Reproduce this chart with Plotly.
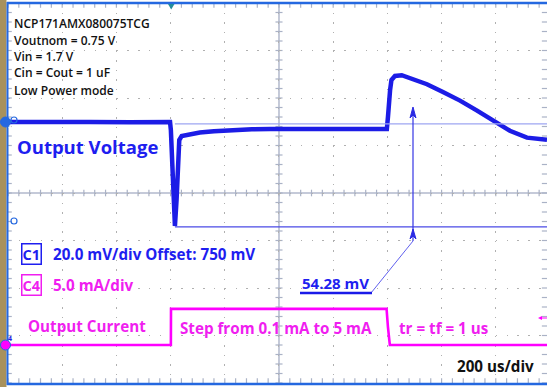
import plotly.graph_objects as go

# ---------------- data ----------------
# Channel 1: output voltage (mV) vs time (us)
time_v_us = [0, 150, 300, 450, 598, 601, 608, 613, 616, 622, 627, 632, 641,
             672, 708, 760, 819, 900, 967, 1100, 1188, 1300, 1391,
             1398, 1402, 1406, 1410, 1415, 1428, 1453, 1494, 1546, 1605,
             1668, 1731, 1790, 1852, 1915, 1989]
voltage_mV = [750.0, 749.8, 750.0, 749.9, 750.0, 746.6, 728.5, 712.9, 706.2, 717.2, 734.0, 742.4, 744.1,
              744.9, 745.6, 746.1, 746.6, 746.9, 747.1, 747.0, 746.9, 746.7, 746.6,
              747.0, 752.0, 759.3, 763.5, 767.7, 769.4, 769.7, 768.2, 765.9, 762.6,
              759.0, 754.8, 750.5, 746.3, 743.4, 742.5]

# Channel 4: output current (mA) vs time (us)
time_i_us = [0, 601, 601.5, 1397, 1402, 1409, 1989]
current_mA = [0.1, 0.1, 3.9, 3.9, 2.0, 0.1, 0.1]

# Scope settings
TIME_PER_DIV = 200       # us/div
V_SCALE, V_OFFSET, V_POS = 20.0, 750.0, 1.495   # mV/div, mV, div
I_SCALE, I_POS = 5.0, -3.22                     # mA/div, div
T_END = 1989

cursor_mV = [749.2, 705.8]
cursor_start_us = 616

info_lines = ["NCP171AMX080075TCG", "Voutnom = 0.75 V", "Vin = 1.7 V",
              "Cin = Cout = 1 uF", "Low Power mode"]

# ---------------- colours / helpers ----------------
BLUE = "#1c1ce6"
TXT_BLUE = "#1e1ef0"
MAG = "#ff00ff"
TXT_MAG = "#f01ef0"
GRID = "#b0b0b0"
FRAME = "#2468e0"
FONT = "Open Sans"

W, H = 547, 387
L, T, B = 8, 3, 383

def px(x):
    return (x - L) / (W - L)

def py(y):
    return (B - y) / (B - T)

v_range = [V_OFFSET + (-4 - V_POS) * V_SCALE, V_OFFSET + (4 - V_POS) * V_SCALE]
i_range = [(-4 - I_POS) * I_SCALE, (4 - I_POS) * I_SCALE]

fig = go.Figure()
fig.add_trace(go.Scatter(x=[], y=[], showlegend=False, hoverinfo="skip"))
fig.add_trace(go.Scatter(x=time_i_us, y=current_mA, yaxis="y3", mode="lines",
                         line=dict(color=MAG, width=2.6), showlegend=False))
fig.add_trace(go.Scatter(x=time_v_us, y=voltage_mV, yaxis="y2", mode="lines",
                         line=dict(color=BLUE, width=4.5),
                         showlegend=False))

shapes = []
# center cross lines
shapes.append(dict(type="line", xref="x", yref="y", x0=0, x1=T_END, y0=0, y1=0,
                   line=dict(color="#b2b9cc", width=1.5), layer="below"))
shapes.append(dict(type="line", xref="x", yref="y", x0=5 * TIME_PER_DIV, x1=5 * TIME_PER_DIV,
                   y0=-4, y1=4, line=dict(color="#b2b9cc", width=1.5), layer="below"))
# minor ticks on center lines and frame edges
t = 0
while t <= 2000:
    shapes.append(dict(type="line", xref="x", yref="y", x0=t, x1=t, y0=-0.07, y1=0.07,
                       line=dict(color="#aab2c6", width=1.2), layer="below"))
    shapes.append(dict(type="line", xref="x", yref="y", x0=t, x1=t, y0=4, y1=3.9,
                       line=dict(color="#aab2c6", width=1.2), layer="below"))
    shapes.append(dict(type="line", xref="x", yref="y", x0=t, x1=t, y0=-4, y1=-3.9,
                       line=dict(color="#aab2c6", width=1.2), layer="below"))
    t += TIME_PER_DIV / 5
d = -4.0
while d <= 4.001:
    shapes.append(dict(type="line", xref="x", yref="y", x0=1000 - 13, x1=1000 + 13, y0=d, y1=d,
                       line=dict(color="#aab2c6", width=1.2), layer="below"))
    shapes.append(dict(type="line", xref="x", yref="y", x0=0, x1=14, y0=d, y1=d,
                       line=dict(color="#aab2c6", width=1.2), layer="below"))
    shapes.append(dict(type="line", xref="x", yref="y", x0=1970, x1=2000, y0=d, y1=d,
                       line=dict(color="#aab2c6", width=1.2), layer="below"))
    d += 0.2

# cursors
shapes.append(dict(type="line", xref="x", yref="y2", x0=cursor_start_us, x1=T_END,
                   y0=cursor_mV[0], y1=cursor_mV[0], line=dict(color="#9ea6f2", width=1.2)))
shapes.append(dict(type="line", xref="x", yref="y2", x0=cursor_start_us, x1=T_END,
                   y0=cursor_mV[1], y1=cursor_mV[1], line=dict(color="#4a4ae6", width=1.2)))

# frame
shapes.append(dict(type="rect", xref="paper", yref="paper", x0=px(0), x1=px(6.5), y0=py(387), y1=py(0),
                   line=dict(width=0), fillcolor="#a8915c"))
shapes.append(dict(type="line", xref="paper", yref="paper", x0=px(7.5), x1=px(7.5), y0=py(385), y1=py(2),
                   line=dict(color=FRAME, width=2)))
shapes.append(dict(type="line", xref="paper", yref="paper", x0=px(7), x1=px(547), y0=py(3), y1=py(3),
                   line=dict(color=FRAME, width=2.5)))
shapes.append(dict(type="line", xref="paper", yref="paper", x0=px(7), x1=px(547), y0=py(384), y1=py(384),
                   line=dict(color=FRAME, width=2.5)))

# trigger marker
shapes.append(dict(type="path", xref="paper", yref="paper",
                   path="M %f %f L %f %f L %f %f Z" % (px(168), py(4), px(174.5), py(4), px(171.2), py(9.5)),
                   line=dict(width=0), fillcolor="#238c9c"))

# channel markers at left
shapes.append(dict(type="circle", xref="paper", yref="paper", x0=px(0.5), x1=px(10.5), y0=py(127), y1=py(117),
                   line=dict(color=FRAME, width=1), fillcolor=FRAME))
shapes.append(dict(type="circle", xref="paper", yref="paper", x0=px(11), x1=px(17), y0=py(123), y1=py(117),
                   line=dict(color=FRAME, width=1.2), fillcolor="rgba(0,0,0,0)"))
shapes.append(dict(type="circle", xref="paper", yref="paper", x0=px(11), x1=px(17), y0=py(224), y1=py(218),
                   line=dict(color=FRAME, width=1.2), fillcolor="rgba(0,0,0,0)"))
shapes.append(dict(type="circle", xref="paper", yref="paper", x0=px(0.5), x1=px(10.5), y0=py(350), y1=py(340),
                   line=dict(color=FRAME, width=1), fillcolor=MAG))
# magenta level arrow at right
shapes.append(dict(type="path", xref="paper", yref="paper",
                   path="M %f %f L %f %f L %f %f Z" % (px(538), py(318), px(542), py(316), px(542), py(320)),
                   line=dict(width=0), fillcolor=MAG))
shapes.append(dict(type="line", xref="paper", yref="paper", x0=px(541), x1=px(547), y0=py(318), y1=py(318),
                   line=dict(color=MAG, width=1)))

# measurement callout lines
shapes.append(dict(type="line", xref="paper", yref="paper", x0=px(413), x1=px(413), y0=py(112), y1=py(241),
                   line=dict(color="#3434e4", width=1.2)))
shapes.append(dict(type="line", xref="paper", yref="paper", x0=px(413), x1=px(371), y0=py(241), y1=py(293),
                   line=dict(color="#6060ee", width=1)))
shapes.append(dict(type="line", xref="paper", yref="paper", x0=px(300), x1=px(372), y0=py(293), y1=py(293),
                   line=dict(color="#1a1ae8", width=2.5)))
for (ty, by) in [(107, 120), (229, 241)]:
    shapes.append(dict(type="path", xref="paper", yref="paper",
                       path="M %f %f L %f %f L %f %f L %f %f Z" % (px(413), py(ty), px(416), py(by - 2),
                                                                    px(413), py(by - 5), px(410), py(by - 2)),
                       line=dict(color="#2a2ae4", width=1), fillcolor="#2a2ae4"))

annotations = []
def txt(s, x, y, color, size, weight="bold", anchor="left"):
    annotations.append(dict(text=s, x=px(x), y=py(y), xref="paper", yref="paper",
                            xanchor=anchor, yanchor="middle", showarrow=False,
                            font=dict(family=FONT, size=size, color=color, weight=weight)))

for s, yy in zip(info_lines, [23, 40.5, 56.5, 72.5, 90]):
    txt(s, 12, yy, "#111111", 12, weight=600)
txt("Output Voltage", 15, 147, TXT_BLUE, 18.5)
txt("20.0 mV/div Offset: 750 mV", 51, 254, TXT_BLUE, 15.2)
txt("5.0 mA/div", 51, 285, TXT_MAG, 15.2)
txt("Output Current", 26, 325.5, TXT_MAG, 15.2)
txt("Step from 0.1 mA to 5 mA", 178, 327.5, TXT_MAG, 15.2)
txt("tr = tf = 1 us", 397, 327.5, TXT_MAG, 15.2)
txt("200 us/div", 455, 366, "#111111", 15.2)
txt("54.28 mV", 300, 283, TXT_BLUE, 15)

for s, yy, col in [("C1", 253.5, TXT_BLUE), ("C4", 284.5, TXT_MAG)]:
    annotations.append(dict(text=s, x=px(31), y=py(yy), xref="paper", yref="paper",
                            xanchor="center", yanchor="middle", showarrow=False,
                            bordercolor=col, borderwidth=1.5, borderpad=0,
                            font=dict(family=FONT, size=14.5, color=col, weight="bold")))
annotations.append(dict(text="1", x=px(5.5), y=py(122), xref="paper", yref="paper", showarrow=False,
                        font=dict(family=FONT, size=7, color="white", weight="bold")))
annotations.append(dict(text="4", x=px(5.5), y=py(345), xref="paper", yref="paper", showarrow=False,
                        font=dict(family=FONT, size=7, color="#1c1ce6", weight="bold")))

fig.update_layout(
    width=W, height=H, autosize=False,
    margin=dict(l=L, r=0, t=T, b=H - B, pad=0),
    paper_bgcolor="white", plot_bgcolor="white",
    showlegend=False,
    xaxis=dict(range=[0, T_END], tick0=0, dtick=TIME_PER_DIV, showgrid=True,
               gridcolor=GRID, gridwidth=1, griddash="1.5px,8px",
               showticklabels=False, ticks="", zeroline=False, showline=False, fixedrange=True),
    yaxis=dict(range=[-4, 4], tick0=-4, dtick=1, showgrid=True,
               gridcolor=GRID, gridwidth=1, griddash="1.5px,9.34px",
               showticklabels=False, ticks="", zeroline=False, showline=False, fixedrange=True),
    yaxis2=dict(range=v_range, overlaying="y", visible=False, showgrid=False, zeroline=False),
    yaxis3=dict(range=i_range, overlaying="y", visible=False, showgrid=False, zeroline=False),
    shapes=shapes,
    annotations=annotations,
)

fig.write_html("out.html", config={"displayModeBar": False},
               post_script="document.body.style.margin='0';document.body.style.overflow='hidden';")
